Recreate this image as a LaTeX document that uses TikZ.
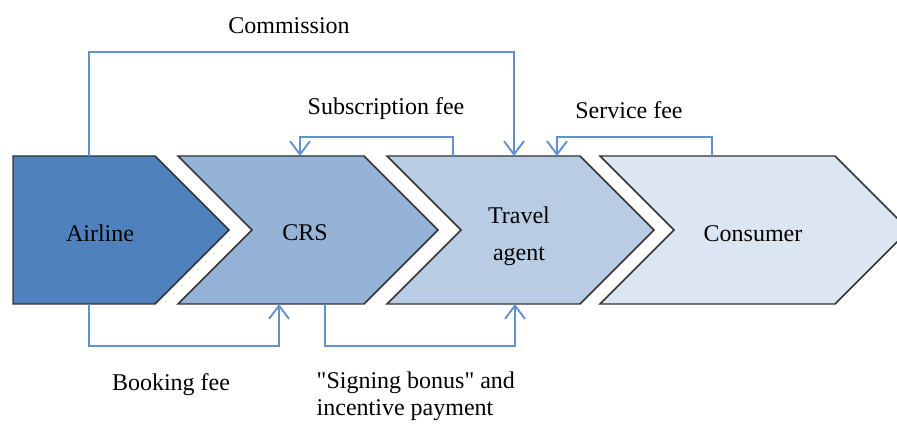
\documentclass[tikz,border=0pt]{standalone}
\usepackage{fontspec}
\setmainfont{Liberation Serif}
\usetikzlibrary{arrows.meta}
\definecolor{airfill}{HTML}{4F81BD}
\definecolor{crsfill}{HTML}{95B3D7}
\definecolor{agentfill}{HTML}{B8CCE4}
\definecolor{consfill}{HTML}{DCE6F2}
\definecolor{flowblue}{RGB}{96,145,205}
\tikzset{
semithick, % all lines semithick
>={Straight Barb[length=10pt,width=15pt]}, % open barbs on the money flows
stage/.style={draw=black!80,line width=1.1pt,line join=miter},
stage text/.style={font=\fontsize{18}{28}\selectfont,align=center},
money/.style={draw=flowblue,line width=1.4pt,->},
money text/.style={font=\fontsize{18}{20}\selectfont,align=left},
}
\begin{document}
\begin{tikzpicture}[x=0.75pt,y=-0.75pt]
\useasboundingbox (0,0) rectangle (897,424);
\clip (0,0) rectangle (897,424);

% the four stages
\draw[stage,fill=airfill]   (13,156) -- (155,156) -- (229,230) -- (155,304) -- (13,304) -- cycle;
\draw[stage,fill=crsfill]   (178,156) -- (364,156) -- (438,230) -- (364,304) -- (178,304) -- (252,230) -- cycle;
\draw[stage,fill=agentfill] (387,156) -- (580,156) -- (654,230) -- (580,304) -- (387,304) -- (461,230) -- cycle;
\draw[stage,fill=consfill]  (600,156) -- (835,156) -- (909,230) -- (835,304) -- (600,304) -- (674,230) -- cycle;

\node[stage text] (air)   at (100,233) {Airline};
\node[stage text] (crs)   at (305,233) {CRS};
\node[stage text] (agent) at (519,236) {Travel\\agent};
\node[stage text] (cons)  at (753,234) {Consumer};

% where the flows meet the stages
\coordinate (air top)    at (89,156);
\coordinate (air bot)    at (89,304);
\coordinate (crs top)    at (300,156);
\coordinate (crs bot)    at (325,304);
\coordinate (crs in)     at (279,304);
\coordinate (agent out)  at (453,156);
\coordinate (agent in)   at (514,156);
\coordinate (agent svc)  at (557,156);
\coordinate (agent bot)  at (515,304);
\coordinate (cons top)   at (712,156);

% money flows
\draw[money] (air top) -- ++(0,-104) -| (agent in);
\draw[money] (agent out) -- ++(0,-19) -| (crs top);
\draw[money] (cons top) -- ++(0,-19) -| (agent svc);
\draw[money] (air bot) -- ++(0,42) -| (crs in);
\draw[money] (crs bot) -- ++(0,42) -| (agent bot);

\node[money text] (commission) at (289,26)  {Commission};
\node[money text] (subscr)     at (386,109) {Subscription fee};
\node[money text] (service)    at (629,110) {Service fee};
\node[money text] (booking)    at (171,385) {Booking fee};
\node[money text,anchor=west] (bonus) at (312,396) {\textquotedbl Signing bonus\textquotedbl{} and\\incentive payment};
\end{tikzpicture}
\end{document}
